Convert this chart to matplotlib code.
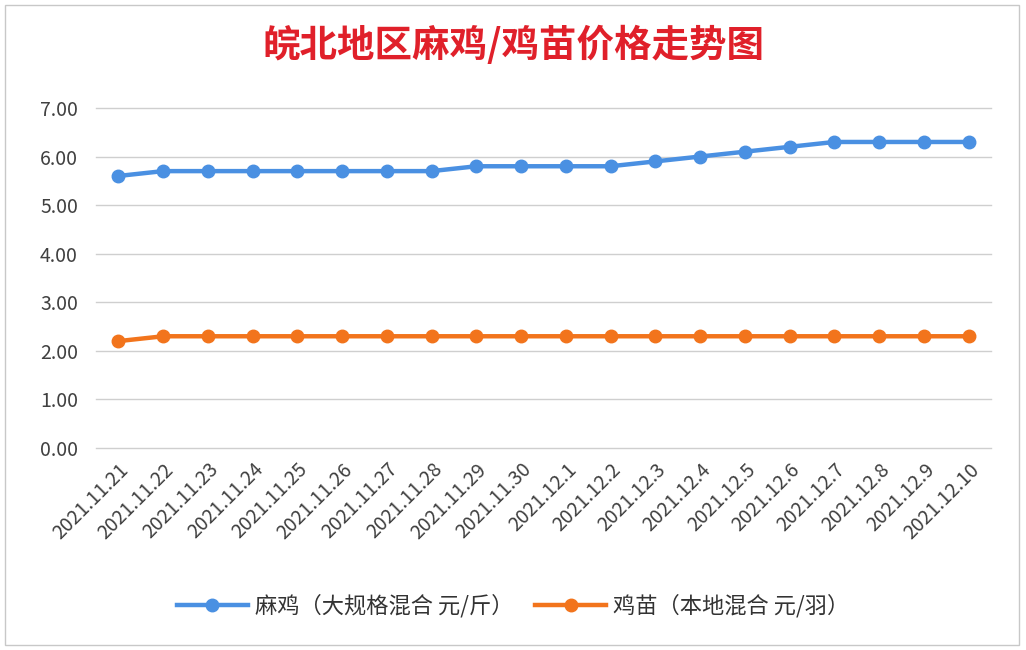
import matplotlib.pyplot as plt
from matplotlib.patches import Rectangle

plt.rcParams["font.family"] = ["Noto Sans CJK SC", "DejaVu Sans"]

# dados
datas = ["2021.11.21", "2021.11.22", "2021.11.23", "2021.11.24", "2021.11.25",
         "2021.11.26", "2021.11.27", "2021.11.28", "2021.11.29", "2021.11.30",
         "2021.12.1", "2021.12.2", "2021.12.3", "2021.12.4", "2021.12.5",
         "2021.12.6", "2021.12.7", "2021.12.8", "2021.12.9", "2021.12.10"]
maji = [5.6, 5.7, 5.7, 5.7, 5.7, 5.7, 5.7, 5.7, 5.8, 5.8,
        5.8, 5.8, 5.9, 6.0, 6.1, 6.2, 6.3, 6.3, 6.3, 6.3]
jimiao = [2.2, 2.3, 2.3, 2.3, 2.3, 2.3, 2.3, 2.3, 2.3, 2.3,
          2.3, 2.3, 2.3, 2.3, 2.3, 2.3, 2.3, 2.3, 2.3, 2.3]
nome_maji = "麻鸡（大规格混合 元/斤）"
nome_jimiao = "鸡苗（本地混合 元/羽）"
yticks = [0, 1, 2, 3, 4, 5, 6, 7]

fig = plt.figure(figsize=(10.26, 6.5), dpi=100)
ax = fig.add_axes([0.0936, 0.3108, 0.8723, 0.5231])

# borda do gráfico
fig.patches.append(Rectangle((0.005, 0.008), 0.988, 0.984, transform=fig.transFigure,
                             fill=False, edgecolor="#c8c8c8", linewidth=1))

x = list(range(len(datas)))
ax.plot(x, maji, color="#4A90E2", linewidth=3.2, marker="o", markersize=9,
        label=nome_maji, zorder=3)
ax.plot(x, jimiao, color="#F2741C", linewidth=3.2, marker="o", markersize=9,
        label=nome_jimiao, zorder=3)

ax.set_xlim(-0.5, len(datas) - 0.5)
ax.set_ylim(0, 7)
ax.set_yticks(yticks)
ax.set_yticklabels([f"{v:.2f}" for v in yticks])
ax.set_xticks(x)
ax.set_xticklabels(datas, rotation=45, ha="right", rotation_mode="anchor")
ax.tick_params(axis="y", length=0, pad=13, labelsize=14, labelcolor="#404040")
ax.tick_params(axis="x", length=0, pad=8, labelsize=14, labelcolor="#404040")
for s in ax.spines.values():
    s.set_visible(False)
ax.grid(axis="y", color="#cfcfcf", linewidth=1)
for gl in ax.get_ygridlines():
    gl.set_clip_on(False)
ax.set_axisbelow(True)

fig.text(0.5, 0.93, "皖北地区麻鸡/鸡苗价格走势图", ha="center", va="center",
         fontsize=27, fontweight="semibold", color="#E0202A")

fig.legend(loc="center", bbox_to_anchor=(0.5, 0.068), ncol=2, frameon=False,
           fontsize=16, handlelength=3.2, columnspacing=1.0, handletextpad=0.3,
           labelcolor="#333333")

fig.savefig("out.png", dpi=100, facecolor="white")
